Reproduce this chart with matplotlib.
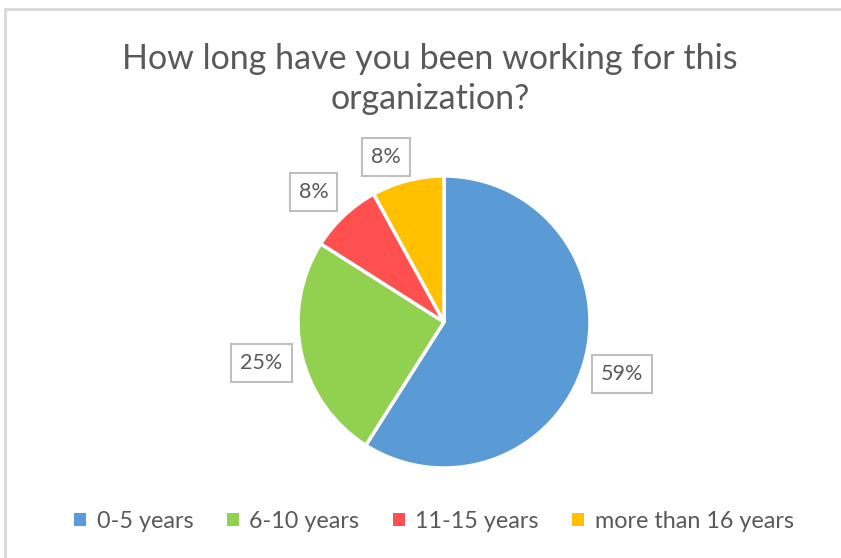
import matplotlib
matplotlib.use("Agg")
import matplotlib.pyplot as plt
import numpy as np
from matplotlib.patches import Rectangle, Patch

plt.rcParams["font.family"] = ["Lato", "DejaVu Sans"]

TITLE = "How long have you been working for this\norganization?"
categories = ["0-5 years", "6-10 years", "11-15 years", "more than 16 years"]
shares = [59, 25, 8, 8]
colors = ["#5b9bd5", "#92d050", "#ff5050", "#ffc000"]

C_TEXT = "#595959"
C_BORDER = "#d9d9d9"

W, H = 841, 558
fig = plt.figure(figsize=(W / 100, H / 100), dpi=100)
fig.patch.set_facecolor("white")

# chart frame
fig.add_artist(Rectangle((5 / W, -0.05), 1.05, (H - 9) / H + 0.05,
                         transform=fig.transFigure, fill=False,
                         edgecolor=C_BORDER, lw=2))

cx, cy, r = 444, H - 322, 146
ax = fig.add_axes([(cx - r) / W, (cy - r) / H, 2 * r / W, 2 * r / H])
wedges, _ = ax.pie(shares, colors=colors, startangle=90, counterclock=False,
                   radius=1, wedgeprops=dict(edgecolor="white", linewidth=2.5))
ax.set_xlim(-1, 1)
ax.set_ylim(-1, 1)
ax.set_aspect("equal")
ax.axis("off")

# data labels outside, boxed
dist = [1.27, 1.28, 1.26, 1.2]
offs = [0, 0, 2, 5]
for w, v, d, o in zip(wedges, shares, dist, offs):
    ang = np.deg2rad((w.theta1 + w.theta2) / 2 + o)
    ax.text(d * np.cos(ang), d * np.sin(ang), f"{v}%", ha="center",
            va="center", fontsize=15.5, color=C_TEXT, clip_on=False,
            bbox=dict(boxstyle="square,pad=0.42", fc="white",
                      ec="#bfbfbf", lw=1.5))

fig.text(430 / W, 1 - 79 / H, TITLE, ha="center", va="center",
         fontsize=24.5, color=C_TEXT, linespacing=1.32)

handles = [Patch(facecolor=c, edgecolor="none") for c in colors]
fig.legend(handles, categories, loc="center", bbox_to_anchor=(434 / W, 1 - 521 / H),
           ncol=4, frameon=False, fontsize=16.8, labelcolor=C_TEXT,
           handlelength=0.5, handleheight=0.5, handletextpad=0.45,
           columnspacing=1.45)

fig.savefig("out.png", dpi=100, facecolor="white")
